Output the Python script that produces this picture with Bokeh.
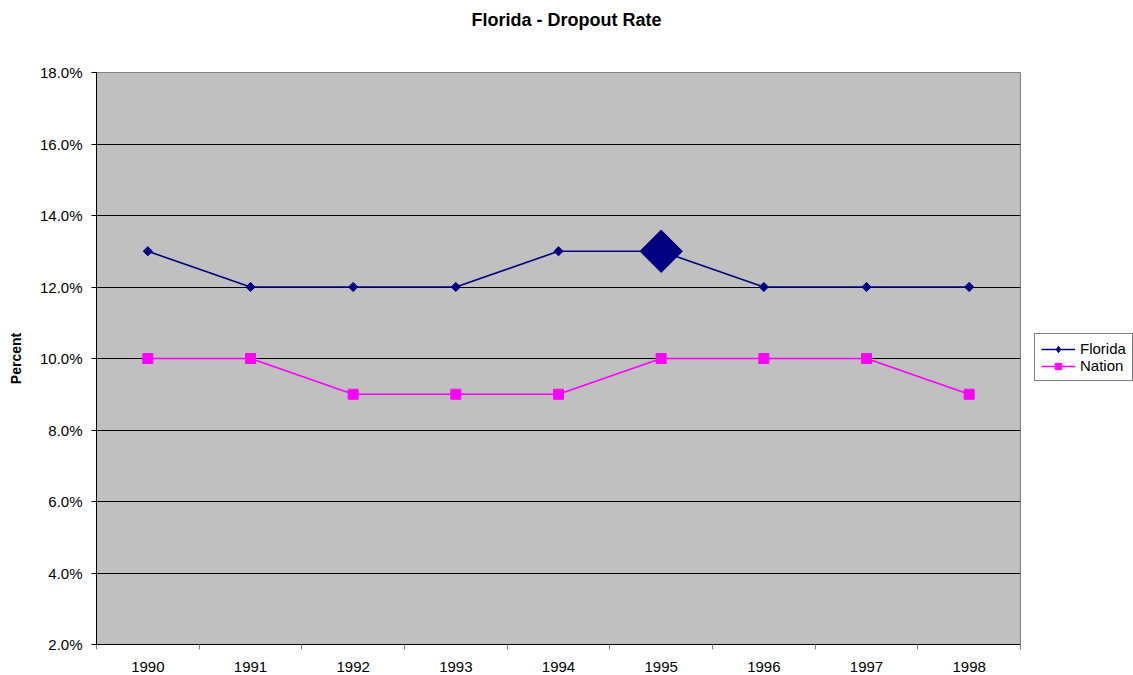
import math
from bokeh.plotting import figure
from bokeh.models import Range1d, FixedTicker, PrintfTickFormatter, Legend, LegendItem
from bokeh.embed import file_html
from bokeh.resources import INLINE

years = ["1990", "1991", "1992", "1993", "1994", "1995", "1996", "1997", "1998"]
florida = [13, 12, 12, 12, 13, 13, 12, 12, 12]
nation = [10, 10, 9, 9, 9, 10, 10, 10, 9]
highlight_year = "1995"
y_ticks = [2, 4, 6, 8, 10, 12, 14, 16, 18]
title_text = "Florida - Dropout Rate"

FONT = "Liberation Sans"

xs = [i + 0.5 for i in range(len(years))]

p = figure(frame_width=924, frame_height=572, output_backend="svg", toolbar_location=None,
           x_range=Range1d(0, len(years)), y_range=Range1d(y_ticks[0], y_ticks[-1]),
           min_border_left=96, min_border_right=0, min_border_top=72, min_border_bottom=31)

p.background_fill_color = "#C0C0C0"
p.border_fill_color = "white"
p.outline_line_color = "#808080"
p.outline_line_width = 1

# two empty trailing lines lift the title to the top of the page
p.title.text = title_text + "\n \n "
p.title.align = "left"
p.title.offset = 375
p.title.text_font = FONT
p.title.text_font_size = "18px"
p.title.text_font_style = "bold"
p.title.text_color = "black"
p.title.standoff = 6

# grid
p.xgrid.grid_line_color = None
p.ygrid.grid_line_color = "black"
p.ygrid.grid_line_width = 1
p.ygrid.ticker = FixedTicker(ticks=y_ticks)

# x axis
xa = p.xaxis[0]
xa.ticker = FixedTicker(ticks=xs, minor_ticks=list(range(len(years) + 1)))
xa.major_label_overrides = {x: y for x, y in zip(xs, years)}
xa.major_tick_in = 0
xa.major_tick_out = 0
xa.minor_tick_in = 0
xa.minor_tick_out = 5
xa.minor_tick_line_color = "#808080"
xa.axis_line_color = "black"
xa.major_label_text_font = FONT
xa.major_label_text_font_size = "15px"
xa.major_label_text_color = "black"
xa.major_label_standoff = 12

# y axis
ya = p.yaxis[0]
ya.ticker = FixedTicker(ticks=y_ticks)
ya.formatter = PrintfTickFormatter(format="%.1f%%")
ya.major_tick_in = 0
ya.major_tick_out = 5
ya.minor_tick_line_color = None
ya.axis_line_color = "black"
ya.major_label_text_font = FONT
ya.major_label_text_font_size = "15px"
ya.major_label_text_color = "black"
ya.major_label_standoff = 9
ya.axis_label = "Percent"
ya.axis_label_text_font = FONT
ya.axis_label_text_font_size = "14px"
ya.axis_label_text_font_style = "bold"
ya.axis_label_text_color = "black"
ya.axis_label_standoff = 13

# series
fl_line = p.line(xs, florida, line_color="#000080", line_width=1.6)
fl_pts = p.scatter(xs, florida, marker="square", angle=math.pi / 4, size=6.5,
                   fill_color="#000080", line_color="#000080")
# diamond glyph used only for the legend key (legend keys are not rotated)
fl_key = p.scatter(xs, florida, marker="diamond", size=10,
                   fill_color="#000080", line_color="#000080", visible=False)
hi = years.index(highlight_year)
p.scatter([xs[hi]], [florida[hi]], marker="square", angle=math.pi / 4, size=30,
          fill_color="#000080", line_color="#000080")

na_line = p.line(xs, nation, line_color="#FF00FF", line_width=1.6)
na_pts = p.scatter(xs, nation, marker="square", size=10,
                   fill_color="#FF00FF", line_color="#FF00FF")

legend = Legend(items=[LegendItem(label="Florida", renderers=[fl_line, fl_key]),
                       LegendItem(label="Nation", renderers=[na_line, na_pts])],
                location=(14, 263))
legend.border_line_color = "black"
legend.border_line_width = 1
legend.background_fill_color = "white"
legend.background_fill_alpha = 1
legend.padding = 6
legend.spacing = 0
legend.margin = 8
legend.glyph_width = 34
legend.glyph_height = 16
legend.label_height = 16
legend.label_standoff = 5
legend.label_text_font = FONT
legend.label_text_font_size = "15px"
legend.label_text_color = "black"
p.add_layout(legend, "right")

open("out.html", "w").write(file_html(p, INLINE))
